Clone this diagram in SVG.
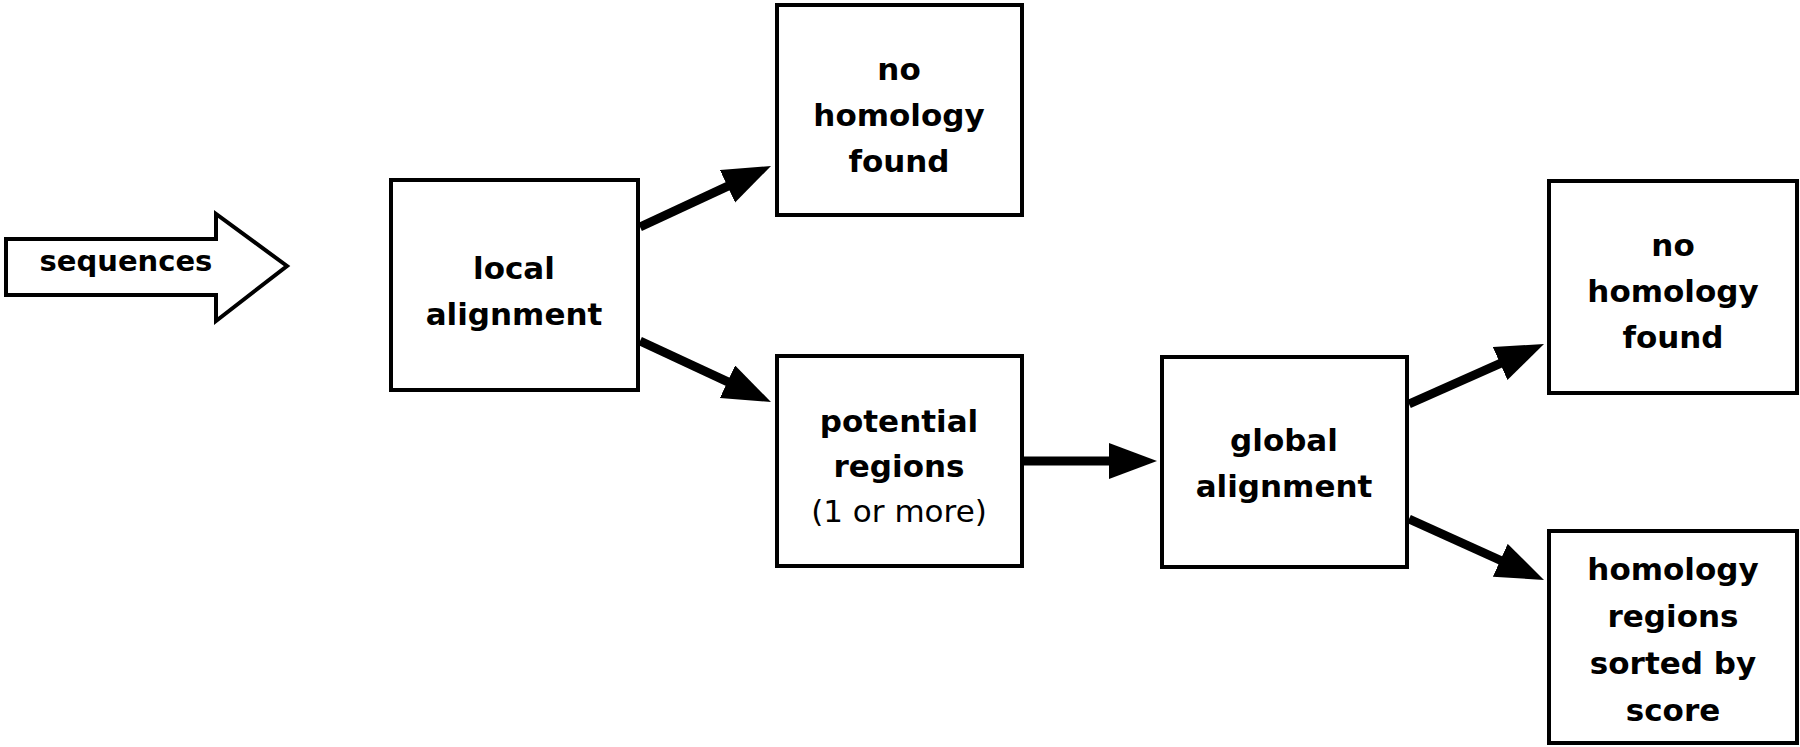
<svg xmlns="http://www.w3.org/2000/svg" width="1800" height="747" viewBox="0 0 1800 747">
<style>
.box{fill:#fff;stroke:#000;stroke-width:4}
.t{font-family:"DejaVu Sans","Liberation Sans",sans-serif;font-size:31px;font-weight:bold;text-anchor:middle;fill:#000}
.n{font-weight:normal}
.c{stroke:#000;stroke-width:9;fill:none;marker-end:url(#ah)}
</style>
<defs>
<marker id="ah" markerUnits="userSpaceOnUse" markerWidth="52" markerHeight="40" refX="20" refY="18" orient="auto">
<path d="M0,0 L48,18 L0,36 Z" fill="#000"/>
</marker>
</defs>
<rect width="1800" height="747" fill="#fff"/>
<g id="sequences">
<polygon points="6,239 216,239 216,214 287,266 216,321 216,295 6,295" fill="#fff" stroke="#000" stroke-width="4"/>
<text class="t" x="126" y="271" style="font-size:29px">sequences</text>
</g>
<g id="local-alignment">
<rect class="box" x="391" y="180" width="247" height="210"/>
<text class="t" x="514" y="279">local</text>
<text class="t" x="514" y="325">alignment</text>
</g>
<g id="no-homology-1">
<rect class="box" x="777" y="5" width="245" height="210"/>
<text class="t" x="899" y="80">no</text>
<text class="t" x="899" y="126">homology</text>
<text class="t" x="899" y="172">found</text>
</g>
<g id="potential-regions">
<rect class="box" x="777" y="356" width="245" height="210"/>
<text class="t" x="899" y="432">potential</text>
<text class="t" x="899" y="477">regions</text>
<text class="t n" x="899" y="522">(1 or more)</text>
</g>
<g id="global-alignment">
<rect class="box" x="1162" y="357" width="245" height="210"/>
<text class="t" x="1284" y="451">global</text>
<text class="t" x="1284" y="497">alignment</text>
</g>
<g id="no-homology-2">
<rect class="box" x="1549" y="181" width="248" height="212"/>
<text class="t" x="1673" y="256">no</text>
<text class="t" x="1673" y="302">homology</text>
<text class="t" x="1673" y="348">found</text>
</g>
<g id="homology-regions">
<rect class="box" x="1549" y="531" width="248" height="212"/>
<text class="t" x="1673" y="580">homology</text>
<text class="t" x="1673" y="627">regions</text>
<text class="t" x="1673" y="674">sorted by</text>
<text class="t" x="1673" y="721">score</text>
</g>
<g id="connectors">
<line class="c" x1="640" y1="227" x2="745.6" y2="177.8"/>
<line class="c" x1="640" y1="341" x2="745.6" y2="390.2"/>
<line class="c" x1="1024" y1="461" x2="1129" y2="461"/>
<line class="c" x1="1409" y1="404" x2="1518.4" y2="355.4"/>
<line class="c" x1="1409" y1="519" x2="1518.5" y2="568.5"/>
</g>
</svg>
